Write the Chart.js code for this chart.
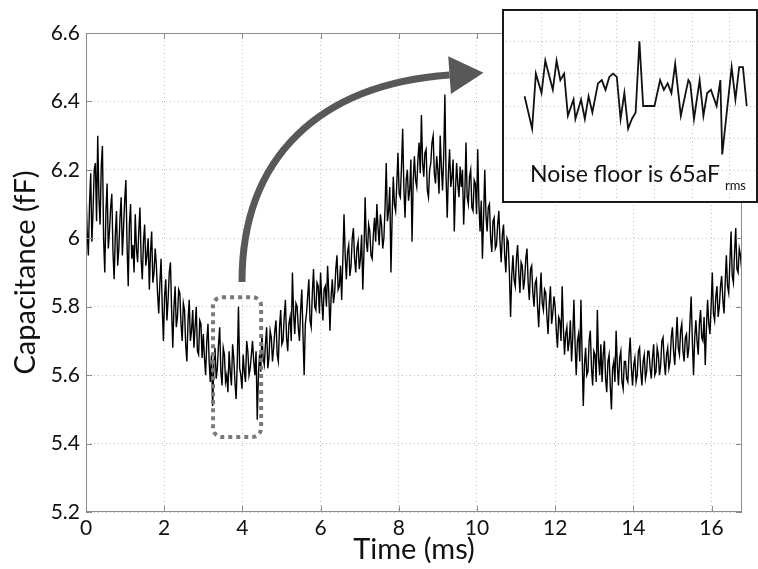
<!DOCTYPE html>
<html>
<head>
<meta charset="utf-8">
<script src="https://cdn.jsdelivr.net/npm/chart.js@4.4.1/dist/chart.umd.min.js"></script>
<style>
html, body { margin: 0; padding: 0; background: #fff; }
#wrap { position: relative; width: 758px; height: 569px; }
#main { position: absolute; left: 0; top: 0; }
#inset { position: absolute; left: 502px; top: 9px; background: #fff; }
</style>
</head>
<body>
<div id="wrap">
  <canvas id="main" width="758" height="569"></canvas>
  <canvas id="inset" width="256" height="194"></canvas>
</div>
<script>
const FONT = "Lato, 'Open Sans', sans-serif";

// capacitance trace, one sample every 0.03 ms (fF)
const sampleStep = 0.03;
const capacitance = [
  6.14, 6.02, 5.95, 6.10, 6.19, 5.99, 6.08, 6.20, 6.22, 6.05, 6.30, 6.12, 6.04, 6.21, 6.27, 6.00, 5.90, 6.08, 6.16, 5.97,
  6.02, 6.09, 6.13, 5.96, 5.88, 6.01, 6.08, 5.92, 5.97, 6.06, 6.12, 5.95, 6.03, 6.11, 6.17, 5.98, 5.86, 6.04, 6.10, 5.94,
  5.98, 5.90, 6.07, 5.97, 5.93, 6.02, 6.09, 5.94, 5.88, 5.99, 6.04, 5.92, 5.95, 6.00, 5.85, 5.96, 6.02, 5.87, 5.90, 5.97,
  5.92, 5.84, 5.78, 5.87, 5.94, 5.80, 5.70, 5.83, 5.88, 5.76, 5.82, 5.90, 5.93, 5.79, 5.68, 5.80, 5.86, 5.74, 5.77, 5.85,
  5.84, 5.75, 5.70, 5.81, 5.79, 5.69, 5.64, 5.76, 5.82, 5.70, 5.73, 5.79, 5.68, 5.74, 5.80, 5.67, 5.66, 5.76, 5.75, 5.65,
  5.72, 5.65, 5.60, 5.70, 5.75, 5.64, 5.58, 5.66, 5.51, 5.63, 5.68, 5.59, 5.62, 5.69, 5.74, 5.61, 5.57, 5.68, 5.66, 5.58,
  5.60, 5.55, 5.67, 5.61, 5.57, 5.69, 5.65, 5.58, 5.53, 5.64, 5.80, 5.62, 5.60, 5.56, 5.66, 5.61, 5.58, 5.70, 5.67, 5.60,
  5.62, 5.66, 5.70, 5.64, 5.60, 5.67, 5.47, 5.60, 5.66, 5.61, 5.72, 5.65, 5.63, 5.69, 5.74, 5.62, 5.65, 5.73, 5.71, 5.64,
  5.68, 5.73, 5.76, 5.66, 5.64, 5.74, 5.79, 5.69, 5.70, 5.77, 5.82, 5.71, 5.67, 5.75, 5.77, 5.70, 5.90, 5.78, 5.72, 5.81,
  5.80, 5.74, 5.70, 5.79, 5.85, 5.72, 5.60, 5.75, 5.78, 5.83, 5.88, 5.76, 5.74, 5.84, 5.91, 5.80, 5.79, 5.87, 5.86, 5.78,
  5.90, 5.82, 5.76, 5.85, 5.86, 5.80, 5.92, 5.84, 5.73, 5.83, 5.88, 5.81, 5.84, 5.91, 5.95, 5.85, 5.86, 5.92, 5.82, 5.94,
  6.07, 5.95, 5.88, 5.96, 5.98, 5.89, 5.92, 6.00, 6.03, 5.94, 5.90, 5.97, 5.99, 5.91, 5.94, 6.01, 5.85, 5.96, 6.12, 5.99,
  5.96, 6.04, 6.02, 5.95, 5.94, 6.01, 6.06, 5.99, 6.10, 6.03, 5.98, 6.07, 6.04, 5.97, 6.00, 6.09, 6.22, 6.05, 6.08, 6.15,
  5.90, 6.06, 6.18, 6.10, 6.08, 6.16, 6.25, 6.13, 6.12, 6.21, 6.32, 6.15, 6.06, 6.17, 6.20, 6.11, 6.14, 6.23, 5.99, 6.17,
  6.24, 6.17, 6.15, 6.23, 6.28, 6.19, 6.36, 6.22, 6.18, 6.25, 6.26, 6.14, 6.12, 6.20, 6.22, 6.28, 6.30, 6.19, 6.16, 6.24,
  6.20, 6.13, 6.30, 6.21, 6.14, 6.24, 6.42, 6.18, 6.06, 6.19, 6.26, 6.15, 6.18, 6.23, 6.02, 6.14, 6.22, 6.16, 6.12, 6.21,
  6.15, 6.20, 6.04, 6.13, 6.28, 6.12, 6.10, 6.18, 6.20, 6.09, 6.08, 6.17, 6.16, 6.07, 6.26, 6.10, 6.02, 6.11, 5.94, 6.06,
  6.20, 6.07, 6.02, 6.09, 6.10, 6.00, 5.96, 6.05, 6.06, 5.97, 5.98, 6.04, 6.08, 5.99, 5.93, 6.01, 6.04, 5.95, 5.90, 6.00,
  5.99, 5.90, 5.77, 5.89, 5.95, 5.88, 5.86, 5.94, 5.98, 5.90, 5.84, 5.93, 5.92, 5.85, 5.88, 5.94, 5.97, 5.87, 5.82, 5.91,
  5.92, 5.84, 5.80, 5.87, 5.88, 5.80, 5.74, 5.83, 5.90, 5.81, 5.79, 5.85, 5.84, 5.77, 5.72, 5.81, 5.86, 5.75, 5.78, 5.83,
  5.80, 5.73, 5.68, 5.77, 5.76, 5.70, 5.86, 5.74, 5.66, 5.72, 5.74, 5.67, 5.70, 5.76, 5.64, 5.71, 5.82, 5.69, 5.60, 5.70,
  5.72, 5.64, 5.82, 5.66, 5.51, 5.63, 5.68, 5.60, 5.61, 5.70, 5.73, 5.62, 5.57, 5.67, 5.66, 5.58, 5.79, 5.65, 5.60, 5.69,
  5.58, 5.66, 5.70, 5.59, 5.55, 5.64, 5.66, 5.57, 5.50, 5.62, 5.64, 5.58, 5.73, 5.63, 5.57, 5.65, 5.67, 5.58, 5.56, 5.64,
  5.64, 5.59, 5.58, 5.66, 5.71, 5.62, 5.57, 5.63, 5.65, 5.58, 5.60, 5.67, 5.68, 5.61, 5.57, 5.64, 5.66, 5.59, 5.61, 5.67,
  5.67, 5.62, 5.59, 5.65, 5.69, 5.60, 5.61, 5.68, 5.66, 5.60, 5.63, 5.70, 5.71, 5.64, 5.60, 5.66, 5.68, 5.62, 5.64, 5.71,
  5.74, 5.67, 5.63, 5.70, 5.77, 5.68, 5.66, 5.73, 5.75, 5.67, 5.64, 5.71, 5.72, 5.65, 5.68, 5.76, 5.83, 5.70, 5.60, 5.71,
  5.76, 5.70, 5.66, 5.75, 5.79, 5.71, 5.70, 5.77, 5.63, 5.74, 5.82, 5.75, 5.72, 5.80, 5.90, 5.78, 5.76, 5.83, 5.86, 5.77,
  5.80, 5.86, 5.89, 5.82, 5.78, 5.87, 5.95, 5.86, 5.84, 5.93, 6.02, 5.89, 5.87, 5.96, 6.03, 5.91, 5.90, 5.97, 5.95, 5.91
];
const timeMs = capacitance.map((v, i) => +(i * sampleStep).toFixed(2));

// zoomed noise window (inset)
const insetTime = [
  3.31, 3.35, 3.37, 3.40, 3.42, 3.46, 3.48, 3.50, 3.52, 3.54,
  3.57, 3.58, 3.61, 3.63, 3.65, 3.67, 3.70, 3.72, 3.74, 3.76,
  3.78, 3.80, 3.82, 3.84, 3.86, 3.88, 3.90, 3.92, 3.94, 4.00,
  4.03, 4.05, 4.07, 4.09, 4.11, 4.14, 4.18, 4.19, 4.21, 4.24,
  4.26, 4.28, 4.30, 4.33, 4.35, 4.36, 4.41, 4.43, 4.45, 4.47, 4.49
];
const insetCap = [
  5.63, 5.53, 5.70, 5.64, 5.74, 5.65, 5.74, 5.68, 5.70, 5.57,
  5.62, 5.56, 5.62, 5.56, 5.63, 5.58, 5.67, 5.68, 5.65, 5.69,
  5.70, 5.69, 5.56, 5.64, 5.53, 5.56, 5.58, 5.80, 5.60, 5.60,
  5.68, 5.65, 5.67, 5.64, 5.73, 5.57, 5.68, 5.67, 5.56, 5.68,
  5.57, 5.64, 5.65, 5.60, 5.68, 5.45, 5.72, 5.62, 5.72, 5.72, 5.60
];

const xTickValues = [0, 2, 4, 6, 8, 10, 12, 14, 16];
const yTickValues = [5.2, 5.4, 5.6, 5.8, 6.0, 6.2, 6.4, 6.6];
const insetXTicks = [3.4, 3.6, 3.8, 4.0, 4.2, 4.4];
const insetYTicks = [5.4, 5.5, 5.6, 5.7, 5.8];

const GRID = '#c2c2c2';
const FRAME = '#8c8c8c';

// MATLAB-like box with small inward ticks
const framePlugin = {
  id: 'frame',
  afterDatasetsDraw(chart) {
    const { ctx, chartArea: a, scales: { x, y } } = chart;
    ctx.save();
    ctx.strokeStyle = FRAME;
    ctx.lineWidth = 1;
    ctx.strokeRect(a.left + 0.5, a.top + 0.5, a.right - a.left - 1, a.bottom - a.top - 1);
    ctx.beginPath();
    xTickValues.forEach(v => {
      const px = Math.round(x.getPixelForValue(v)) + 0.5;
      ctx.moveTo(px, a.bottom); ctx.lineTo(px, a.bottom - 6);
      ctx.moveTo(px, a.top); ctx.lineTo(px, a.top + 6);
    });
    yTickValues.forEach(v => {
      const py = Math.round(y.getPixelForValue(v)) + 0.5;
      ctx.moveTo(a.left, py); ctx.lineTo(a.left + 6, py);
      ctx.moveTo(a.right, py); ctx.lineTo(a.right - 6, py);
    });
    ctx.stroke();
    ctx.restore();
  }
};

// dotted selection box and the curved arrow to the inset
const calloutPlugin = {
  id: 'callout',
  afterDraw(chart) {
    const { ctx, scales: { x, y } } = chart;
    const P = (t, v) => [x.getPixelForValue(t), y.getPixelForValue(v)];

    const [bx0, by0] = P(3.25, 5.828);
    const [bx1, by1] = P(4.48, 5.419);
    ctx.save();
    ctx.strokeStyle = '#7a7a7a';
    ctx.lineWidth = 4;
    ctx.setLineDash([4, 4]);
    ctx.beginPath();
    ctx.roundRect(bx0, by0, bx1 - bx0, by1 - by0, 9);
    ctx.stroke();
    ctx.restore();

    const s = P(3.99, 5.872);
    const c1 = P(3.99, 6.24);
    const c2 = P(6.0, 6.45);
    const e = P(9.3, 6.477);
    ctx.save();
    ctx.strokeStyle = '#585858';
    ctx.fillStyle = '#585858';
    ctx.lineWidth = 7;
    ctx.beginPath();
    ctx.moveTo(s[0], s[1]);
    ctx.bezierCurveTo(c1[0], c1[1], c2[0], c2[1], e[0], e[1]);
    ctx.stroke();
    const dx = e[0] - c2[0], dy = e[1] - c2[1];
    const len = Math.hypot(dx, dy);
    const ux = dx / len, uy = dy / len;
    const headLen = 34, headHalf = 19;
    ctx.beginPath();
    ctx.moveTo(e[0] + ux * headLen, e[1] + uy * headLen);
    ctx.lineTo(e[0] - uy * headHalf, e[1] + ux * headHalf);
    ctx.lineTo(e[0] + uy * headHalf, e[1] - ux * headHalf);
    ctx.closePath();
    ctx.fill();
    ctx.restore();
  }
};

new Chart(document.getElementById('main'), {
  type: 'line',
  data: {
    datasets: [{
      data: timeMs.map((t, i) => ({ x: t, y: capacitance[i] })),
      borderColor: '#000',
      borderWidth: 1.4,
      pointRadius: 0,
      tension: 0,
      fill: false
    }]
  },
  options: {
    responsive: false,
    animation: false,
    devicePixelRatio: 1,
    layout: { padding: { top: 33, right: 16, left: 0, bottom: 0 } },
    plugins: { legend: { display: false }, tooltip: { enabled: false } },
    scales: {
      x: {
        type: 'linear', min: 0, max: 16.78,
        afterBuildTicks: s => { s.ticks = xTickValues.map(v => ({ value: v })); },
        afterFit: s => { s.height = 57; },
        grid: { color: GRID, drawTicks: false },
        border: { display: false, dash: [1, 3] },
        ticks: { padding: 4, color: '#111', font: { family: FONT, size: 21 }, maxRotation: 0, autoSkip: false },
        title: { display: true, text: 'Time (ms)', color: '#111', font: { family: FONT, size: 29 }, padding: { top: 0, bottom: 2 } }
      },
      y: {
        type: 'linear', min: 5.2, max: 6.6,
        afterBuildTicks: s => { s.ticks = yTickValues.map(v => ({ value: v })); },
        afterFit: s => { s.width = 86; },
        grid: { color: GRID, drawTicks: false },
        border: { display: false, dash: [1, 3] },
        ticks: { padding: 6, color: '#111', font: { family: FONT, size: 21 }, callback: v => String(+v.toFixed(1)) },
        title: { display: true, text: 'Capacitance (fF)', color: '#111', font: { family: FONT, size: 29 }, padding: { top: 8, bottom: 0 } }
      }
    }
  },
  plugins: [framePlugin, calloutPlugin]
});

// inset frame and caption
const insetPlugin = {
  id: 'insetFrame',
  afterDraw(chart) {
    const { ctx, width, height } = chart;
    ctx.save();
    ctx.strokeStyle = '#1a1a1a';
    ctx.lineWidth = 2;
    ctx.strokeRect(1, 1, width - 2, height - 2);
    ctx.fillStyle = '#111';
    ctx.textBaseline = 'alphabetic';
    ctx.font = "23px " + FONT;
    const main = 'Noise floor is 65aF';
    ctx.fillText(main, 28, 173);
    const w = ctx.measureText(main).width;
    ctx.font = "13px " + FONT;
    ctx.fillText('rms', 28 + w + 5, 181);
    ctx.restore();
  }
};

new Chart(document.getElementById('inset'), {
  type: 'line',
  data: {
    datasets: [{
      data: insetTime.map((t, i) => ({ x: t, y: insetCap[i] })),
      borderColor: '#111',
      borderWidth: 1.8,
      pointRadius: 0,
      tension: 0,
      fill: false
    }]
  },
  options: {
    responsive: false,
    animation: false,
    devicePixelRatio: 1,
    layout: { padding: 0 },
    plugins: { legend: { display: false }, tooltip: { enabled: false } },
    scales: {
      x: {
        type: 'linear', min: 3.19, max: 4.55,
        afterBuildTicks: s => { s.ticks = insetXTicks.map(v => ({ value: v })); },
        grid: { color: GRID, drawTicks: false },
        border: { display: false, dash: [1, 3] },
        ticks: { display: false }
      },
      y: {
        type: 'linear', min: 5.3, max: 5.9,
        afterBuildTicks: s => { s.ticks = insetYTicks.map(v => ({ value: v })); },
        grid: { color: GRID, drawTicks: false },
        border: { display: false, dash: [1, 3] },
        ticks: { display: false }
      }
    }
  },
  plugins: [insetPlugin]
});
</script>
</body>
</html>
